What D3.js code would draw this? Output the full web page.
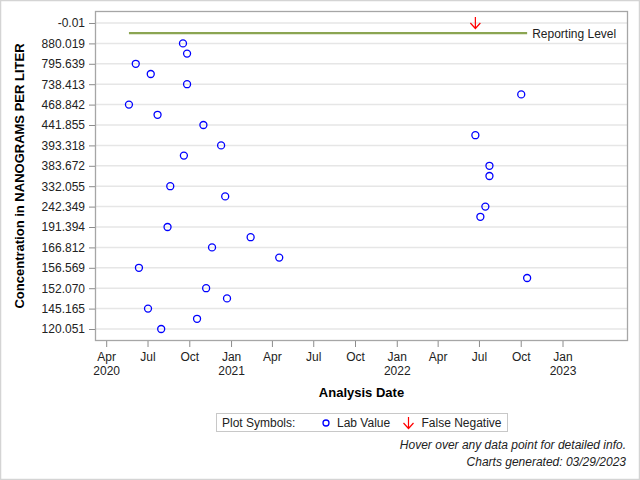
<!DOCTYPE html>
<html><head><meta charset="utf-8">
<script src="https://cdn.jsdelivr.net/npm/d3@7"></script>
<style>
html,body{margin:0;padding:0;background:#fff;}
svg{display:block;font-family:"Liberation Sans",Arial,sans-serif;}
</style></head>
<body>
<svg id="chart" width="640" height="480"></svg>
<script>
// ---- Data ----
// y axis categories (ordinal axis, top to bottom); only every other one is labeled
const yCategories = ["-0.01","RL","880.019","846.2","795.639","760.5","738.413","512.3","468.842","452.7","441.855","410.6","393.318","388.9","383.672","352.4","332.055","287.1","242.349","214.6","191.394","178.0","166.812","160.2","156.569","154.3","152.070","148.9","145.165","131.5","120.051"];
const yTickLabels = ["-0.01","880.019","795.639","738.413","468.842","441.855","393.318","383.672","332.055","242.349","191.394","166.812","156.569","152.070","145.165","120.051"];
// Lab values: analysis date and concentration category
const labDates = ["2020-09-16","2020-09-25","2020-06-04","2020-07-07","2020-09-25","2022-10-01","2020-05-20","2020-07-22","2020-10-31","2022-06-22","2020-12-09","2020-09-18","2022-07-23","2022-07-23","2020-08-19","2020-12-18","2022-07-14","2022-07-03","2020-08-13","2021-02-12","2020-11-19","2021-04-16","2020-06-11","2022-10-14","2020-11-06","2020-12-22","2020-07-01","2020-10-17","2020-07-30"];
const labValues = ["880.019","846.2","795.639","760.5","738.413","512.3","468.842","452.7","441.855","410.6","393.318","388.9","383.672","352.4","332.055","287.1","242.349","214.6","191.394","178.0","166.812","160.2","156.569","154.3","152.070","148.9","145.165","131.5","120.051"];
// False negatives
const fnDates = ["2022-06-22"];
const fnValues = ["-0.01"];
// Reporting level
const reportingLevel = "RL";
// x axis ticks (quarterly)
const xTickDates = ["2020-04-01","2020-07-01","2020-10-01","2021-01-01","2021-04-01","2021-07-01","2021-10-01","2022-01-01","2022-04-01","2022-07-01","2022-10-01","2023-01-01"];

// ---- Layout ----
const svg = d3.select("#chart");
const W = 640, H = 480;
const plot = {left:95, right:628, top:11, bottom:341};
const parse = d3.utcParse("%Y-%m-%d");

svg.append("rect").attr("x",0.5).attr("y",0.5).attr("width",W-1).attr("height",H-1)
  .attr("fill","#fff").attr("stroke","#d4d4d4").attr("stroke-width",1.5);

const x = d3.scaleUtc()
  .domain([parse("2020-04-01"), parse("2023-01-01")])
  .range([106.7, 563]);
const y = d3.scalePoint().domain(yCategories)
  .range([plot.top, plot.bottom]).padding(1.176);

// gridlines
svg.append("g").selectAll("line").data(yTickLabels).join("line")
  .attr("x1",plot.left).attr("x2",plot.right)
  .attr("y1",d=>y(d)).attr("y2",d=>y(d))
  .attr("stroke","#e6e6e6").attr("stroke-width",1.5);

// frame
svg.append("rect").attr("x",plot.left+0.5).attr("y",plot.top+0.5)
  .attr("width",plot.right-plot.left-1).attr("height",plot.bottom-plot.top-1)
  .attr("fill","none").attr("stroke","#a6a6a6").attr("stroke-width",1.3);

// y axis
const yAxis = d3.axisLeft(y).tickValues(yTickLabels).tickSize(6).tickPadding(4);
const gy = svg.append("g").attr("transform",`translate(${plot.left},0)`).call(yAxis);
gy.select(".domain").remove();
gy.selectAll(".tick line").attr("stroke","#8c8c8c");
gy.selectAll(".tick text").attr("fill","#222").style("font-size","12px")
  .style("font-family","'Liberation Sans',Arial,sans-serif");

// x axis
const gx = svg.append("g").attr("transform",`translate(0,${plot.bottom})`);
const xTicks = xTickDates.map(parse);
gx.selectAll("line").data(xTicks).join("line")
  .attr("x1",d=>x(d)).attr("x2",d=>x(d)).attr("y1",0).attr("y2",6)
  .attr("stroke","#8c8c8c");
const monthFmt = d3.utcFormat("%b"), yearFmt = d3.utcFormat("%Y");
gx.selectAll("text.m").data(xTicks).join("text").attr("class","m")
  .attr("x",d=>x(d)).attr("y",20).attr("text-anchor","middle")
  .attr("fill","#222").style("font-size","12px").text(d=>monthFmt(d));
gx.selectAll("text.yr").data(xTicks.filter((d,i)=>i===0||d.getUTCMonth()===0)).join("text").attr("class","yr")
  .attr("x",d=>x(d)).attr("y",34).attr("text-anchor","middle")
  .attr("fill","#222").style("font-size","12px").text(d=>yearFmt(d));

// axis titles
svg.append("text").attr("x",(plot.left+plot.right)/2).attr("y",397)
  .attr("text-anchor","middle").style("font-size","13px").style("font-weight","bold")
  .attr("fill","#000").text("Analysis Date");
svg.append("text").attr("transform",`translate(24,${(plot.top+plot.bottom)/2}) rotate(-90)`)
  .attr("text-anchor","middle").style("font-size","13px").style("font-weight","bold")
  .attr("fill","#000").text("Concentration in NANOGRAMS PER LITER");

// reporting level line
const labD = labDates.map(parse);
const allD = labD.concat(fnDates.map(parse));
const [dMin, dMax] = d3.extent(labD);
svg.append("line").attr("x1",x(dMin)).attr("x2",x(dMax))
  .attr("y1",y(reportingLevel)).attr("y2",y(reportingLevel))
  .attr("stroke","#8ba552").attr("stroke-width",2.2);
svg.append("text").attr("x",x(dMax)+5).attr("y",y(reportingLevel)+4.5)
  .style("font-size","12px").attr("fill","#222").text("Reporting Level");

// lab value markers
svg.append("g").selectAll("circle").data(labD).join("circle")
  .attr("cx",d=>x(d)).attr("cy",(d,i)=>y(labValues[i])).attr("r",3.5)
  .attr("fill","none").attr("stroke","#0000ff").attr("stroke-width",1.3);

// false negative arrows
function arrow(g, cx, cy){
  g.append("path").attr("d",`M${cx},${cy-6}L${cx},${cy+5}M${cx-5},${cy}L${cx},${cy+5.5}L${cx+5},${cy}`)
    .attr("fill","none").attr("stroke","#ff0000").attr("stroke-width",1.2);
}
const fnG = svg.append("g");
fnDates.forEach((d,i)=>arrow(fnG, x(parse(d)), y(fnValues[i])));

// legend
const lg = svg.append("g");
lg.append("rect").attr("x",216.5).attr("y",413.5).attr("width",291).attr("height",18)
  .attr("fill","#fff").attr("stroke","#c8c8c8");
lg.append("text").attr("x",222).attr("y",427).style("font-size","12px").attr("fill","#222").text("Plot Symbols:");
lg.append("circle").attr("cx",326).attr("cy",423).attr("r",3).attr("fill","none")
  .attr("stroke","#0000ff").attr("stroke-width",1.3);
lg.append("text").attr("x",337).attr("y",427).style("font-size","12px").attr("fill","#222").text("Lab Value");
arrow(lg, 408.5, 423);
lg.append("text").attr("x",421.5).attr("y",427).style("font-size","12px").attr("fill","#222").text("False Negative");

// footnotes
svg.append("text").attr("x",626).attr("y",449).attr("text-anchor","end")
  .style("font-size","12px").style("font-style","italic").attr("fill","#222")
  .text("Hover over any data point for detailed info.");
svg.append("text").attr("x",626).attr("y",466).attr("text-anchor","end")
  .style("font-size","12px").style("font-style","italic").attr("fill","#222")
  .text("Charts generated: 03/29/2023");
</script>
</body></html>
